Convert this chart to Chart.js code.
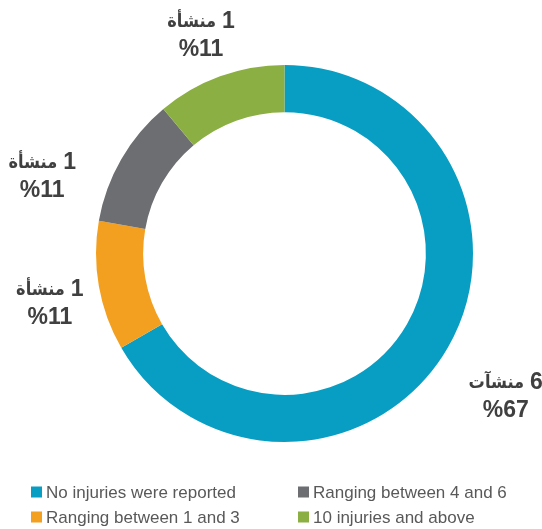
<!DOCTYPE html>
<html>
<head>
<meta charset="utf-8">
<script src="https://cdn.jsdelivr.net/npm/chart.js@4.4.1/dist/chart.umd.min.js"></script>
<style>
  html, body { margin: 0; padding: 0; background: #ffffff; }
  #wrap { width: 542px; height: 529px; position: relative; }
</style>
</head>
<body>
<div id="wrap"><canvas id="chart" width="542" height="529"></canvas></div>
<script>
// Injury categories and number of facilities in each
const categories = [
  'No injuries were reported',
  'Ranging between 1 and 3',
  'Ranging between 4 and 6',
  '10 injuries and above'
];
const facilityCounts = [6, 1, 1, 1];
const sliceColors = ['#089EC4', '#F3A020', '#6D6E72', '#8BAF42'];
// Legend is laid out in two columns: this is the reading order
const legendOrder = [0, 2, 1, 3];

const total = facilityCounts.reduce((a, b) => a + b, 0);
const unitWord = v => (v === 1 ? 'منشأة' : 'منشآت');
const percentText = v => '%' + Math.round(v / total * 100);

// Label centre offsets from the outer edge at each slice's mid-angle
const labelOffsets = [[58, 49], [-49, 17], [-79, 17], [-19, -41]];

const NUM_FONT = 'bold 23px "Liberation Sans", Arial, sans-serif';
const WORD_FONT = 'bold 18px "DejaVu Sans Condensed", "DejaVu Sans", sans-serif';

// "N word" written right-to-left: number on the right, word on the left
function drawCountLine(ctx, n, cx, cy) {
  const word = unitWord(n);
  const num = String(n);
  const gap = 6;
  ctx.font = NUM_FONT;
  const wNum = ctx.measureText(num).width;
  ctx.font = WORD_FONT;
  ctx.direction = 'rtl';
  const wWord = ctx.measureText(word).width;
  const left = cx - (wNum + gap + wWord) / 2;
  ctx.textAlign = 'left';
  ctx.fillText(word, left, cy + 1);
  ctx.direction = 'ltr';
  ctx.font = NUM_FONT;
  ctx.fillText(num, left + wWord + gap, cy);
}

const sliceLabels = {
  id: 'sliceLabels',
  afterDatasetsDraw(chart) {
    const ctx = chart.ctx;
    const meta = chart.getDatasetMeta(0);
    const values = chart.data.datasets[0].data;
    ctx.save();
    ctx.fillStyle = '#404040';
    ctx.textBaseline = 'middle';
    meta.data.forEach((arc, i) => {
      const p = arc.getProps(['x', 'y', 'startAngle', 'endAngle', 'outerRadius'], true);
      const mid = (p.startAngle + p.endAngle) / 2;
      const cx = p.x + Math.cos(mid) * p.outerRadius + labelOffsets[i][0];
      const cy = p.y + Math.sin(mid) * p.outerRadius + labelOffsets[i][1];
      drawCountLine(ctx, values[i], cx, cy - 14);
      ctx.font = NUM_FONT;
      ctx.textAlign = 'center';
      ctx.direction = 'ltr';
      ctx.fillText(percentText(values[i]), cx, cy + 14);
    });
    ctx.restore();
  }
};

const gridLegend = {
  id: 'gridLegend',
  afterDraw(chart) {
    const ctx = chart.ctx;
    const colX = [31, 298];
    const rowY = [492, 517];
    const box = 11;
    ctx.save();
    ctx.font = '17px "Liberation Sans", Arial, sans-serif';
    ctx.textBaseline = 'middle';
    ctx.textAlign = 'left';
    legendOrder.forEach((idx, k) => {
      const x = colX[k % 2];
      const y = rowY[Math.floor(k / 2)];
      ctx.fillStyle = sliceColors[idx];
      ctx.fillRect(x, y - box / 2, box, box);
      ctx.fillStyle = '#595959';
      ctx.fillText(categories[idx], x + box + 4, y + 1);
    });
    ctx.restore();
  }
};

new Chart(document.getElementById('chart'), {
  type: 'doughnut',
  data: {
    labels: categories,
    datasets: [{
      data: facilityCounts,
      backgroundColor: sliceColors,
      borderWidth: 0
    }]
  },
  options: {
    responsive: false,
    animation: false,
    devicePixelRatio: 1,
    cutout: '75%',
    layout: { padding: { top: 65, bottom: 87, left: 96, right: 69 } },
    plugins: {
      legend: { display: false },
      tooltip: { enabled: false }
    }
  },
  plugins: [sliceLabels, gridLegend]
});
</script>
</body>
</html>
